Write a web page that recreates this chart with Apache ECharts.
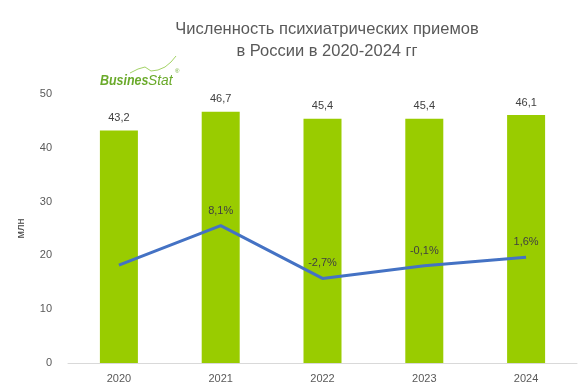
<!DOCTYPE html>
<html><head><meta charset="utf-8">
<script src="https://cdn.jsdelivr.net/npm/echarts@6/dist/echarts.min.js"></script>
<style>html,body{margin:0;padding:0;background:#fff}#c{width:585px;height:392px}</style>
</head><body><div id="c"></div>
<script>
const years = ['2020','2021','2022','2023','2024'];
const visits = [43.2, 46.7, 45.4, 45.4, 46.1];
const growth = [0.0, 8.1, -2.7, -0.1, 1.6];
const growthLabels = ['', '8,1%', '-2,7%', '-0,1%', '1,6%'];
const yTicks = [0, 10, 20, 30, 40, 50];

const font = "'Liberation Sans', Arial, sans-serif";
const chart = echarts.init(document.getElementById('c'));
chart.setOption({
  animation: false,
  textStyle: {fontFamily: font},
  title: {
    text: 'Численность психиатрических приемов\nв России в 2020-2024 гг',
    left: 322, top: 13, textAlign: 'center',
    textStyle: {fontSize: 16.5, fontWeight: 'normal', color: '#595959', lineHeight: 22, fontFamily: font}
  },
  grid: {left: 68, right: 8, top: 94, bottom: 29},
  xAxis: {
    type: 'category', data: years,
    axisLine: {lineStyle: {color: '#d9d9d9'}},
    axisTick: {show: false},
    axisLabel: {color: '#595959', fontSize: 11, margin: 10}
  },
  yAxis: [{
    type: 'value', min: yTicks[0], max: yTicks[yTicks.length-1], interval: 10,
    name: 'млн', nameLocation: 'middle', nameGap: 42, nameRotate: 90,
    nameTextStyle: {color: '#404040', fontSize: 11},
    axisLabel: {color: '#595959', fontSize: 11, margin: 16},
    splitLine: {show: false}, axisLine: {show: false}, axisTick: {show: false}
  }, {
    type: 'value', min: -20, max: 35, show: false, splitLine: {show: false}
  }],
  series: [{
    type: 'bar', data: visits, barWidth: 38,
    itemStyle: {color: '#99cc00'},
    label: {show: true, position: 'top', distance: 7, color: '#404040', fontSize: 11,
      formatter: p => String(p.value).replace('.', ',')}
  }, {
    type: 'line', yAxisIndex: 1, data: growth, symbol: 'circle', symbolSize: 1, showSymbol: true,
    itemStyle: {color: 'rgba(0,0,0,0)'},
    lineStyle: {color: '#4472c4', width: 3},
    label: {show: true, position: 'top', distance: 9, color: '#404040', fontSize: 11,
      formatter: p => growthLabels[p.dataIndex]}
  }],
  graphic: [
    {type: 'polyline', shape: {points: [[130,73],[138,69],[145,67],[151,71],[158,70],[165,67],[171,62],[176,56]]},
     style: {stroke: '#8cc63f', lineWidth: 0.8, fill: null}},
    {type: 'text', x: 100, y: 73, scaleX: 0.83, style: {text: 'Busines', font: 'italic bold 15px ' + font, fill: '#6aaa2a'}},
    {type: 'text', x: 148, y: 73, scaleX: 0.92, style: {text: 'Stat', font: 'italic 15px ' + font, fill: '#6aaa2a'}},
    {type: 'text', x: 175, y: 68, style: {text: '®', font: '6px ' + font, fill: '#6aaa2a'}}
  ]
});
</script></body></html>
